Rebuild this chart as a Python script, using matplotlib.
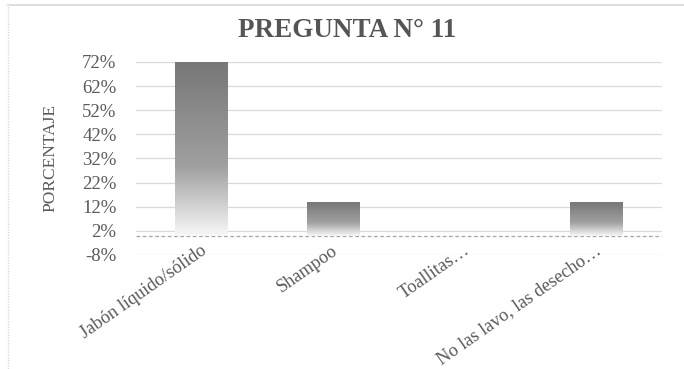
import numpy as np
import matplotlib
matplotlib.use("Agg")
import matplotlib.pyplot as plt
from matplotlib.colors import LinearSegmentedColormap
from matplotlib.lines import Line2D
import matplotlib.transforms as mtransforms

# Data
categories = ["Jabón líquido/sólido", "Shampoo", "Toallitas…", "No las lavo, las desecho…"]
values = [72, 14, 0, 14]
yticks = [-8, 2, 12, 22, 32, 42, 52, 62, 72]
title = "PREGUNTA N° 11"
ylabel = "PORCENTAJE"

text_gray = "#595959"
serif = ["Liberation Serif", "DejaVu Serif"]

fig = plt.figure(figsize=(6.84, 3.69), dpi=100)
ax = fig.add_axes([0.1988, 0.309, 0.7692, 0.523])

# Gray vertical gradient used to fill each bar (dark on top, fading to white)
grad_cmap = LinearSegmentedColormap.from_list(
    "bar_grad", [(0.0, "#777777"), (0.6, "#a0a0a0"), (1.0, "#f8f8f8")]
)
grad = np.linspace(0, 1, 256).reshape(-1, 1)

x = np.arange(len(categories))
bars = ax.bar(x, values, width=0.40, color="none", edgecolor="none", zorder=3)
for rect in bars:
    h = rect.get_height()
    if h <= 0:
        continue
    x0 = rect.get_x()
    w = rect.get_width()
    im = ax.imshow(grad, cmap=grad_cmap, aspect="auto",
                   extent=(x0, x0 + w, 0, h), origin="upper",
                   zorder=3, interpolation="bicubic")
    im.set_clip_path(rect)

ax.set_xlim(-0.5, len(categories) - 0.5)
ax.set_ylim(-8, 72)
ax.set_yticks(yticks)
ax.set_yticklabels([f"{t}%" for t in yticks], fontfamily=serif,
                   fontsize=13.5, color=text_gray)
ax.tick_params(axis="y", length=0, pad=14)
ax.set_xticks([])

ax.grid(axis="y", color="#d9d9d9", linewidth=0.9, zorder=0)
ax.axhline(0, color="#a6a6a6", linewidth=0.9, linestyle=(0, (3, 2)), zorder=2)
for s in ax.spines.values():
    s.set_visible(False)

# Category labels hang from the zero line
lab_tr = mtransforms.offset_copy(ax.transData, fig=fig, x=3, y=-13, units="dots")
for xi, lab in zip(x, categories):
    ax.text(xi, 0, lab, transform=lab_tr, rotation=35, rotation_mode="anchor",
            ha="right", va="center", fontfamily=serif, fontsize=13.2,
            color=text_gray, clip_on=False)

ax.set_ylabel(ylabel, fontfamily=serif, fontsize=12.5, color=text_gray)
ax.yaxis.set_label_coords(-0.148, 0.5)

fig.text(0.507, 0.918, title, ha="center", va="center", fontfamily=serif,
         fontsize=19.5, fontweight="bold", color="#555555")

# Light frame lines along the top and left edges
fig.add_artist(Line2D([8 / 684, 1.0], [1 - 5 / 369, 1 - 5 / 369],
                      transform=fig.transFigure, color="#d9d9d9", linewidth=1.2))
fig.add_artist(Line2D([8 / 684, 8 / 684], [0.0, 1 - 5 / 369],
                      transform=fig.transFigure, color="#d9d9d9", linewidth=1.0,
                      linestyle=(0, (1, 1))))

fig.savefig("out.png", dpi=100)
